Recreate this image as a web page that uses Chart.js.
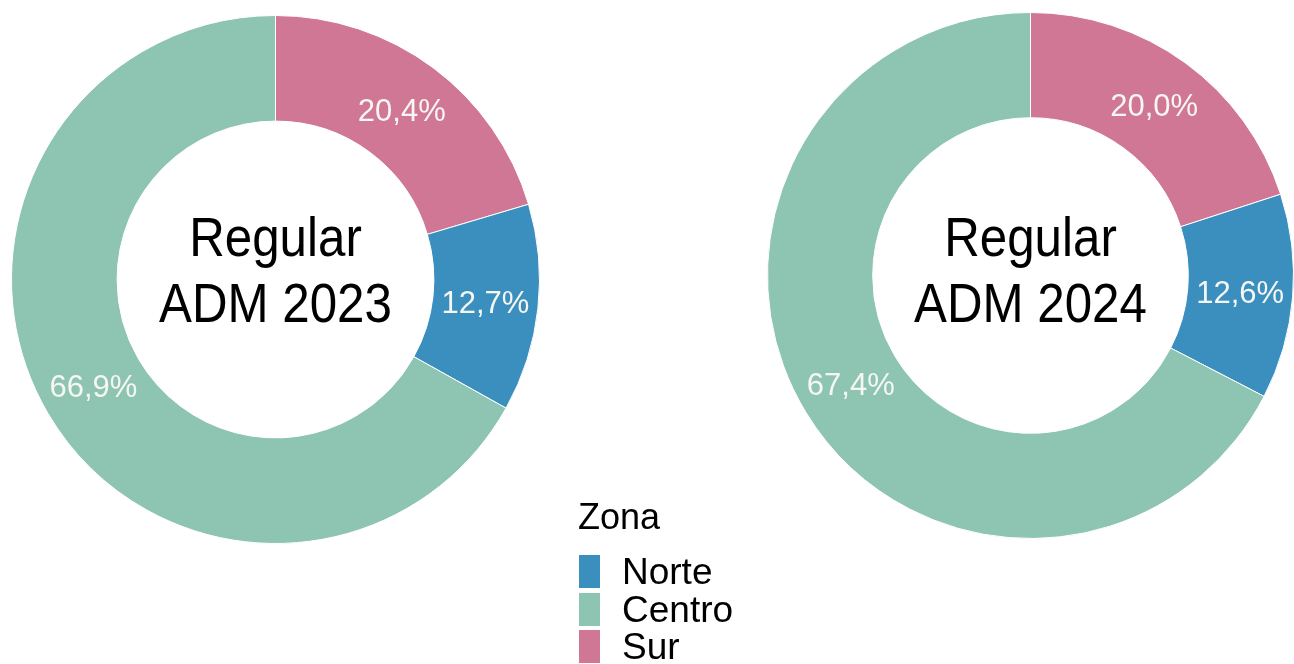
<!DOCTYPE html>
<html>
<head>
<meta charset="utf-8">
<script src="https://cdn.jsdelivr.net/npm/chart.js@4/dist/chart.umd.min.js"></script>
<style>
  html, body { margin: 0; padding: 0; background: #fff; }
  body { width: 1294px; height: 664px; position: relative; overflow: hidden; font-family: "Liberation Sans", Arial, sans-serif; }
  .dona { position: absolute; }
  #leyenda { position: absolute; left: 578px; top: 497px; width: 200px; height: 170px; color: #000; }
  #leyenda .titulo { position: absolute; left: 0; top: 0; font-size: 36px; line-height: 40px; }
  #leyenda .caja { position: absolute; left: 1px; width: 21px; height: 33px; }
  #leyenda .txt { position: absolute; left: 44px; font-size: 37px; line-height: 40px; white-space: nowrap; }
</style>
</head>
<body>
<div class="dona" style="left:11px; top:15px; width:529px; height:529px;"><canvas id="g2023"></canvas></div>
<div class="dona" style="left:767px; top:12px; width:527px; height:527px;"><canvas id="g2024"></canvas></div>
<div id="leyenda"></div>

<script>
// datos
const zonas = ['Norte', 'Centro', 'Sur'];
const colores = ['#3A8FBF', '#8DC4B2', '#D07795'];
const adm2023 = [12.7, 66.9, 20.4];
const adm2024 = [12.6, 67.4, 20.0];
const titulos = [['Regular', 'ADM 2023'], ['Regular', 'ADM 2024']];
const orden = [2, 0, 1]; // Sur, Norte, Centro desde arriba en sentido horario

const fmt = v => v.toFixed(1).replace('.', ',') + '%';

// etiquetas de porcentaje sobre cada sector
const etiquetas = {
    id: 'etiquetas',
    afterDatasetsDraw(chart) {
        const ctx = chart.ctx;
        const ds = chart.data.datasets[0];
        ctx.save();
        ctx.font = '31px "Liberation Sans", Arial, sans-serif';
        ctx.fillStyle = '#F6F6F2';
        ctx.textAlign = 'center';
        ctx.textBaseline = 'middle';
        chart.getDatasetMeta(0).data.forEach((arc, i) => {
            const p = arc.tooltipPosition();
            ctx.fillText(fmt(ds.data[i]), p.x, p.y + 2);
        });
        ctx.restore();
    }
};

// texto central
const centro = {
    id: 'centro',
    afterDraw(chart, args, opts) {
        const arc = chart.getDatasetMeta(0).data[0];
        const ctx = chart.ctx;
        ctx.save();
        ctx.translate(arc.x, arc.y + opts.dy);
        ctx.scale(0.88, 1);
        ctx.font = '56px "Liberation Sans", Arial, sans-serif';
        ctx.fillStyle = '#000';
        ctx.textAlign = 'center';
        ctx.textBaseline = 'alphabetic';
        ctx.fillText(opts.lineas[0], 0, -24);
        ctx.fillText(opts.lineas[1], 0, 42);
        ctx.restore();
    }
};

function crearDona(canvas, valores, lineas, dy) {
    new Chart(canvas, {
        type: 'doughnut',
        data: {
            labels: orden.map(i => zonas[i]),
            datasets: [{
                data: orden.map(i => valores[i]),
                backgroundColor: orden.map(i => colores[i]),
                borderColor: '#ffffff',
                borderWidth: 1,
                hoverOffset: 0
            }]
        },
        options: {
            responsive: true,
            maintainAspectRatio: false,
            animation: false,
            events: [],
            cutout: '60%',
            layout: { padding: 0 },
            plugins: {
                legend: { display: false },
                tooltip: { enabled: false },
                centro: { lineas: lineas, dy: dy }
            }
        },
        plugins: [etiquetas, centro]
    });
}

crearDona(document.getElementById('g2023'), adm2023, titulos[0], 0);
crearDona(document.getElementById('g2024'), adm2024, titulos[1], 4.5);

// leyenda compartida
const ley = document.getElementById('leyenda');
ley.innerHTML = '<div class="titulo">Zona</div>' + zonas.map((z, i) =>
    '<div class="caja" style="top:' + (58 + i * 37.5) + 'px; background:' + colores[i] + '"></div>' +
    '<div class="txt" style="top:' + (55 + i * 37.5) + 'px">' + z + '</div>').join('');
</script>
</body>
</html>
